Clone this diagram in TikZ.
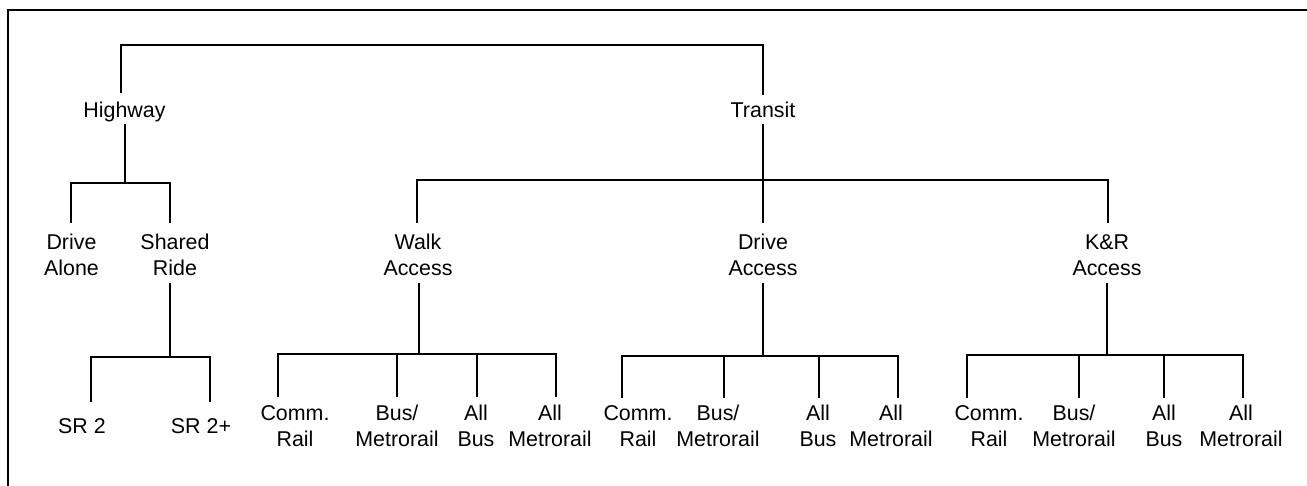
\documentclass[tikz,border=0pt]{standalone}
\usepackage{fontspec}
\setmainfont{Liberation Sans}
% invisible struts that set the space between a label and its connectors
\newcommand\topgap[1]{\vrule width0pt height#1pt}
\newcommand\botgap[1]{\vrule width0pt depth#1pt}

\begin{document}
\begin{tikzpicture}[x=1pt,y=-1pt,
  lbl/.style={inner sep=0pt, outer sep=0pt, align=center, anchor=north,
    font=\fontsize{21.4}{25.7}\selectfont},
  tree/.style={line width=1.4pt, line join=miter},
  stem/.style={line width=2.4pt},
  frame/.style={line width=2pt}]

\useasboundingbox (0,0) rectangle (1307,485);
\draw[frame] (8,10) rectangle (1330,510);

% ---------- labels ----------
\node[lbl] (hw) at (124.5,93) {\topgap{24.7}Highway\botgap{6.3}};
\node[lbl] (tr) at (763,95)   {\topgap{22.7}Transit\botgap{6.3}};

\node[lbl] (da)  at (71.5,223) {\topgap{26.7}Drive\\Alone};
\node[lbl] (shr) at (175,223)  {\topgap{26.7}Shared\\Ride\botgap{7.3}};
\node[lbl] (wa)  at (418,223)  {\topgap{26.7}Walk\\Access\botgap{7.3}};
\node[lbl] (dra) at (763,223)  {\topgap{26.7}Drive\\Access\botgap{7.3}};
\node[lbl] (kr)  at (1107,223) {\topgap{26.7}K\&R\\Access\botgap{7.3}};

\node[lbl] (s1) at (82,402)  {\topgap{31.7}SR 2};
\node[lbl] (s2) at (201,402) {\topgap{31.7}SR 2+};

\node[lbl] (w1) at (295,397) {\topgap{23.7}Comm.\\Rail};
\node[lbl] (w2) at (397,397) {\topgap{23.7}Bus/\\Metrorail};
\node[lbl] (w3) at (476,397) {\topgap{23.7}All\\Bus};
\node[lbl] (w4) at (550,397) {\topgap{23.7}All\\Metrorail};

\node[lbl] (d1) at (638,398) {\topgap{22.7}Comm.\\Rail};
\node[lbl] (d2) at (718,398) {\topgap{22.7}Bus/\\Metrorail};
\node[lbl] (d3) at (818,398) {\topgap{22.7}All\\Bus};
\node[lbl] (d4) at (891,398) {\topgap{22.7}All\\Metrorail};

\node[lbl] (k1) at (989,398)  {\topgap{22.7}Comm.\\Rail};
\node[lbl] (k2) at (1074,398) {\topgap{22.7}Bus/\\Metrorail};
\node[lbl] (k3) at (1164,398) {\topgap{22.7}All\\Bus};
\node[lbl] (k4) at (1241,398) {\topgap{22.7}All\\Metrorail};

% ---------- junction points on the bars ----------
\coordinate (tl) at (121,45);   \coordinate (trt) at (763,45);
\coordinate (hj) at (125,183);  \coordinate (hb1) at (71,183);  \coordinate (hb2) at (170,183);
\coordinate (tj) at (763,180);  \coordinate (tb1) at (417,180); \coordinate (tb2) at (1108,180);
\coordinate (sj) at (170,357);  \coordinate (sb1) at (91,357);  \coordinate (sb2) at (210,357);
\coordinate (wj) at (419,354);  \coordinate (wb1) at (278,354); \coordinate (wb2) at (397,354);
\coordinate (wb3) at (477,354); \coordinate (wb4) at (556,354);
\coordinate (dj) at (763,356);  \coordinate (db1) at (622,356); \coordinate (db2) at (724,356);
\coordinate (db3) at (819,356); \coordinate (db4) at (898,356);
\coordinate (kj) at (1107,355); \coordinate (kb1) at (967,355); \coordinate (kb2) at (1079,355);
\coordinate (kb3) at (1164,355); \coordinate (kb4) at (1243,355);

% ---------- connectors ----------
% root
\draw[tree] (hw.north -| tl) |- (trt) -- (tr.north -| trt);

% highway
\draw[tree] (hw.south -| hj) -- (hj);
\draw[tree] (da.north -| hb1) |- (hb2) -- (shr.north -| hb2);
\draw[tree] (shr.south -| sj) -- (sj);
\draw[tree] (s1.north -| sb1) |- (sb2) -- (s2.north -| sb2);

% transit
\draw[tree] (tr.south -| tj) -- (dra.north -| tj);
\draw[tree] (wa.north -| tb1) |- (tb2) -- (kr.north -| tb2);

% walk access
\draw[tree] (wa.south -| wj) -- (wj);
\draw[stem] ([yshift=31pt]wj) -- (wj);
\draw[tree] (w1.north -| wb1) |- (wb4) -- (w4.north -| wb4);
\draw[tree] (wb2) -- (w2.north -| wb2);
\draw[tree] (wb3) -- (w3.north -| wb3);

% drive access
\draw[tree] (dra.south -| dj) -- (dj);
\draw[stem] ([yshift=31pt]dj) -- (dj);
\draw[tree] (d1.north -| db1) |- (db4) -- (d4.north -| db4);
\draw[tree] (db2) -- (d2.north -| db2);
\draw[tree] (db3) -- (d3.north -| db3);

% kiss & ride access
\draw[tree] (kr.south -| kj) -- (kj);
\draw[stem] ([yshift=31pt]kj) -- (kj);
\draw[tree] (k1.north -| kb1) |- (kb4) -- (k4.north -| kb4);
\draw[tree] (kb2) -- (k2.north -| kb2);
\draw[tree] (kb3) -- (k3.north -| kb3);
\end{tikzpicture}
\end{document}
